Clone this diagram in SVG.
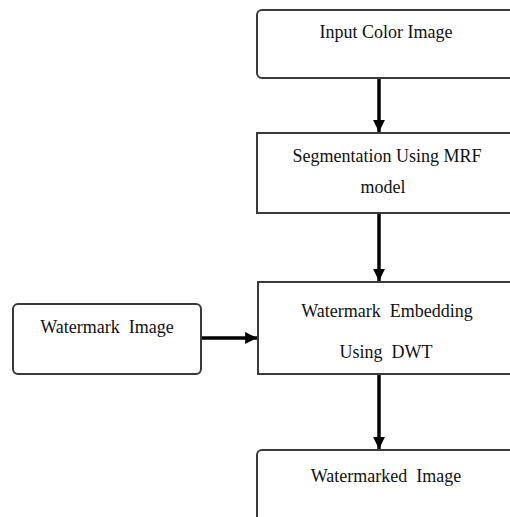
<svg xmlns="http://www.w3.org/2000/svg" width="510" height="517" viewBox="0 0 510 517">
  <style>
    .box { fill: #ffffff; stroke: #3a3a3a; stroke-width: 2; }
    .label { font-family: "Liberation Serif", "Times New Roman", serif; font-size: 18px; fill: #111111; text-anchor: middle; white-space: pre; }
    .link { stroke: #000000; stroke-width: 3.5; fill: none; }
  </style>
  <defs>
    <marker id="arrow" viewBox="0 0 10 10" refX="10" refY="5" markerWidth="3.4" markerHeight="3.4" orient="auto" markerUnits="strokeWidth">
      <path d="M0,0 L10,5 L0,10 Z" fill="#000000"/>
    </marker>
  </defs>

  <rect width="510" height="517" fill="#ffffff"/>

  <g id="input-color-image">
    <rect class="box" x="257" y="10" width="270" height="68" rx="5"/>
    <text class="label" x="386" y="38">Input Color Image</text>
  </g>

  <g id="segmentation">
    <rect class="box" x="257" y="133" width="270" height="80"/>
    <text class="label" x="387" y="162">Segmentation Using MRF</text>
    <text class="label" x="383" y="193">model</text>
  </g>

  <g id="embedding">
    <rect class="box" x="258" y="282" width="270" height="92"/>
    <text class="label" x="387" y="317" xml:space="preserve">Watermark  Embedding</text>
    <text class="label" x="386" y="358" xml:space="preserve">Using  DWT</text>
  </g>

  <g id="watermark-image">
    <rect class="box" x="13" y="304" width="188" height="70" rx="5"/>
    <text class="label" x="107" y="333" xml:space="preserve">Watermark  Image</text>
  </g>

  <g id="watermarked-image">
    <rect class="box" x="257" y="450" width="270" height="80" rx="5"/>
    <text class="label" x="386" y="482" xml:space="preserve">Watermarked  Image</text>
  </g>

  <g id="connectors">
    <line class="link" x1="379" y1="79" x2="379" y2="132" marker-end="url(#arrow)"/>
    <line class="link" x1="379" y1="214" x2="379" y2="281" marker-end="url(#arrow)"/>
    <line class="link" x1="379" y1="375" x2="379" y2="449" marker-end="url(#arrow)"/>
    <line class="link" x1="202" y1="338" x2="257" y2="338" marker-end="url(#arrow)"/>
  </g>
</svg>
